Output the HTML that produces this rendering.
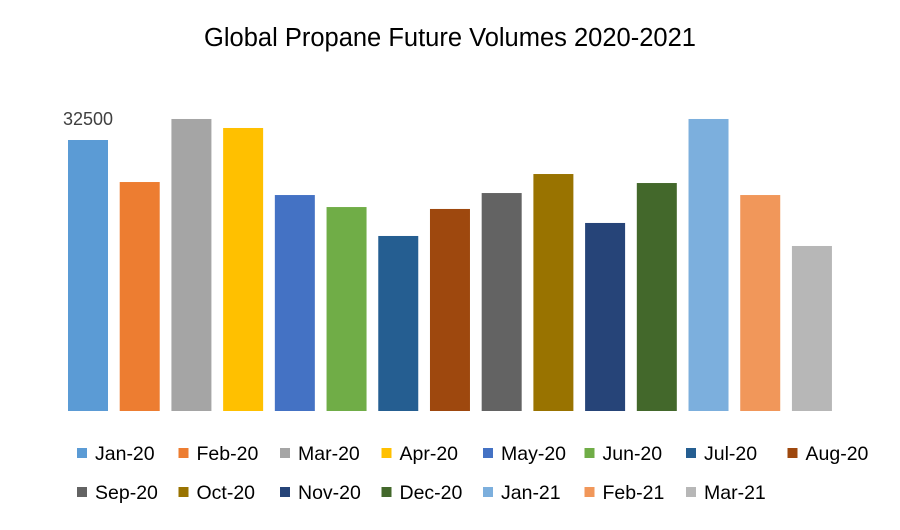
<!DOCTYPE html>
<html><head><meta charset="utf-8"><style>
body{margin:0;background:#fff;}
svg{font-family:"Liberation Sans",sans-serif;}
</style></head><body>
<svg width="900" height="525" viewBox="0 0 900 525">
<rect x="0" y="0" width="900" height="525" fill="#fff"/>
<text x="450" y="46" text-anchor="middle" font-size="25.5" fill="#000">Global Propane Future Volumes 2020-2021</text>
<g id="bars"></g>
<g id="legend"></g>
</svg>
<script>
const categories=["Jan-20","Feb-20","Mar-20","Apr-20","May-20","Jun-20","Jul-20","Aug-20","Sep-20","Oct-20","Nov-20","Dec-20","Jan-21","Feb-21","Mar-21"];
const values=[32500,27460,35020,33940,25900,24460,20990,24230,26140,28420,22550,27340,35020,25900,19790];
const colors=["#5b9bd5","#ed7d31","#a5a5a5","#ffc000","#4472c4","#70ad47","#255e91","#9e480e","#636363","#997300","#264478","#43682b","#7cafdd","#f1975a","#b7b7b7"];
const baseY=411, pxPer=271/32500;
const xFor=i=>68+i*51.71;
const yFor=v=>baseY-v*pxPer;
const ns="http://www.w3.org/2000/svg";
const bars=document.getElementById('bars');
categories.forEach((c,i)=>{
  const r=document.createElementNS(ns,'rect');
  r.setAttribute('x',xFor(i));r.setAttribute('y',yFor(values[i]));
  r.setAttribute('width',40);r.setAttribute('height',baseY-yFor(values[i]));
  r.setAttribute('fill',colors[i]);
  
  
  bars.appendChild(r);
});
const lbl=document.createElementNS(ns,'text');
lbl.setAttribute('x',xFor(0)+20);lbl.setAttribute('y',yFor(values[0])-15);
lbl.setAttribute('text-anchor','middle');lbl.setAttribute('font-size','18');lbl.setAttribute('fill','#404040');
lbl.textContent=values[0];


bars.appendChild(lbl);
const leg=document.getElementById('legend');
categories.forEach((c,i)=>{
  const row=i<8?0:1, col=i<8?i:i-8;
  const x=77+col*101.5, y=row?492:453;
  const g=document.createElementNS(ns,'g');
  
  
  const s=document.createElementNS(ns,'rect');
  s.setAttribute('x',x);s.setAttribute('y',y-5);s.setAttribute('width',10);s.setAttribute('height',10);s.setAttribute('fill',colors[i]);
  const t=document.createElementNS(ns,'text');
  t.setAttribute('x',x+18);t.setAttribute('y',y+7);t.setAttribute('font-size','19.5');t.setAttribute('fill','#000');
  t.textContent=c;
  g.appendChild(s);g.appendChild(t);leg.appendChild(g);
});
</script>
</body></html>
